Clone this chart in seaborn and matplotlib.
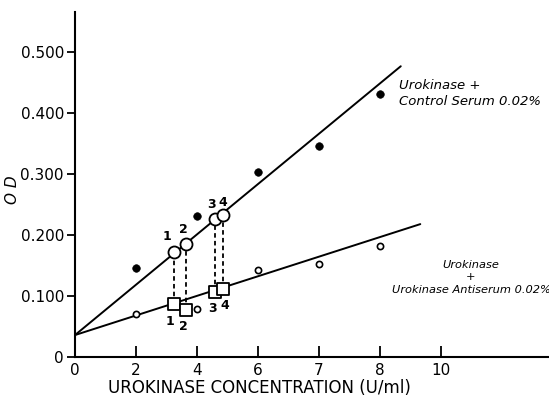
import matplotlib
matplotlib.use("Agg")
import matplotlib.pyplot as plt
import seaborn as sns
import pandas as pd
import numpy as np

# ---- data (x given as position index of the equally spaced ticks) ----
tick_labels = ["0", "2", "4", "6", "7", "8", "10"]
tick_pos = [0, 1, 2, 3, 4, 5, 6]
point_x = [1, 2, 3, 4, 5]
control_od = [0.146, 0.231, 0.303, 0.346, 0.431]
antiserum_od = [0.070, 0.079, 0.143, 0.152, 0.182]

line_control_x = [0.0, 5.34]
line_control_y = [0.036, 0.477]
line_anti_x = [0.0, 5.66]
line_anti_y = [0.036, 0.218]

sample_ids = ["1", "2", "3", "4"]
sample_x = [1.62, 1.82, 2.30, 2.43]
sample_control = [0.172, 0.185, 0.226, 0.233]
sample_anti = [0.087, 0.077, 0.107, 0.111]

y_ticks = [0.0, 0.1, 0.2, 0.3, 0.4, 0.5]
y_tick_labels = ["0", "0.100", "0.200", "0.300", "0.400", "0.500"]

sns.set_style("ticks")
plt.rcParams['font.family'] = ['DejaVu Sans']
for k in ["text.color", "axes.labelcolor", "xtick.color", "ytick.color",
          "axes.edgecolor"]:
    plt.rcParams[k] = "black"

fig = plt.figure(figsize=(5.49, 4.0), dpi=100)
ax = fig.add_axes([75 / 549, 43 / 400, 1 - 75 / 549, (357 - 12) / 400])

lc = pd.DataFrame({"x": line_control_x, "y": line_control_y})
la = pd.DataFrame({"x": line_anti_x, "y": line_anti_y})
sns.lineplot(data=lc, x="x", y="y", ax=ax, color="black", lw=1.4, zorder=2)
sns.lineplot(data=la, x="x", y="y", ax=ax, color="black", lw=1.4, zorder=2)

ax.vlines(sample_x, sample_anti, sample_control, colors="black",
          linestyles=(0, (2.5, 1.8)), lw=1.3, zorder=1)

pts = pd.DataFrame({"x": point_x, "c": control_od, "a": antiserum_od})
sns.scatterplot(data=pts, x="x", y="c", ax=ax, color="black", s=30,
                edgecolor="black", zorder=4)
sns.scatterplot(data=pts, x="x", y="a", ax=ax, color="white", s=20,
                edgecolor="black", linewidth=1.2, zorder=4)

sm = pd.DataFrame({"x": sample_x, "c": sample_control, "a": sample_anti})
sns.scatterplot(data=sm, x="x", y="c", ax=ax, color="white", s=75,
                edgecolor="black", linewidth=1.3, zorder=5)
sns.scatterplot(data=sm, x="x", y="a", ax=ax, color="white", s=75, marker="s",
                edgecolor="black", linewidth=1.3, zorder=5)

# sample number labels
circ_lab = [(1.51, 0.197), (1.77, 0.209), (2.23, 0.250), (2.43, 0.254)]
sq_lab = [(1.56, 0.058), (1.77, 0.050), (2.26, 0.080), (2.45, 0.085)]
for sid, (x, y) in zip(sample_ids, circ_lab):
    ax.text(x, y, sid, ha="center", va="center", fontsize=9, fontweight="bold")
for sid, (x, y) in zip(sample_ids, sq_lab):
    ax.text(x, y, sid, ha="center", va="center", fontsize=9, fontweight="bold")

ax.text(5.31, 0.432, "Urokinase +\nControl Serum 0.02%", ha="left", va="center",
        fontsize=9.5, style="italic", linespacing=1.3)
ax.text(6.49, 0.131, "Urokinase\n+\nUrokinase Antiserum 0.02%", ha="center",
        va="center", fontsize=8.2, style="italic", linespacing=1.3)

ax.set_xlim(0, 7.77)
ax.set_ylim(0, 0.566)
ax.set_xticks(tick_pos)
ax.set_xticklabels(tick_labels, fontsize=11)
ax.set_yticks(y_ticks)
ax.set_yticklabels(y_tick_labels, fontsize=11)
ax.tick_params(axis="x", direction="in", length=8, width=1.3, pad=4)
ax.tick_params(axis="y", direction="out", length=6, width=1.3, pad=2)
for s in ["top", "right"]:
    ax.spines[s].set_visible(False)
for s in ["left", "bottom"]:
    ax.spines[s].set_linewidth(1.5)

ax.set_xlabel("UROKINASE CONCENTRATION (U/ml)", fontsize=12, va="center")
ax.set_ylabel("O D", fontsize=11, style="italic")
ax.xaxis.set_label_coords((259 - 75) / 474, -(388 - 357) / 345)
ax.yaxis.set_label_coords((20 - 75) / 474, 0.484)

fig.savefig("out.png", dpi=100)
